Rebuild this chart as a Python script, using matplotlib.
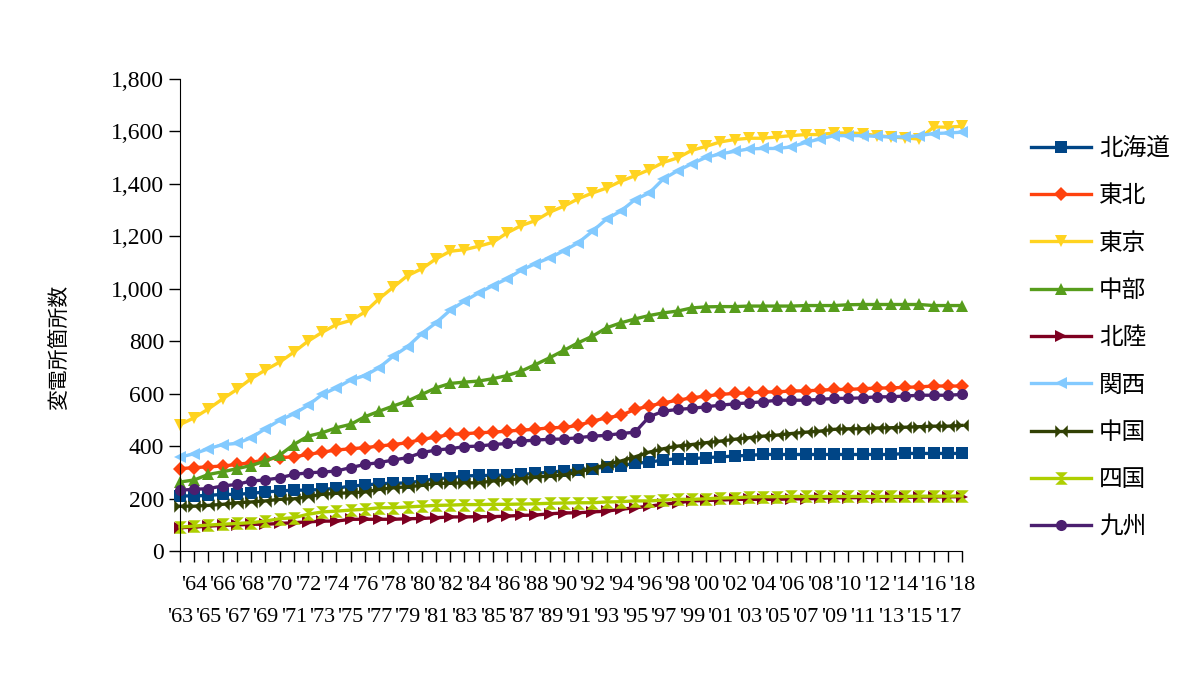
import matplotlib
matplotlib.use("Agg")
import matplotlib.pyplot as plt
from matplotlib.path import Path

years = list(range(1963, 2019))

hokkaido = [210, 210, 212, 216, 216, 220, 225, 229, 232, 232, 235, 239, 248, 251, 257, 258,
            260, 267, 276, 279, 286, 288, 288, 290, 292, 296, 301, 305, 309, 314, 321, 326,
            334, 339, 347, 352, 352, 356, 359, 362, 365, 368, 368, 368, 368, 368, 368, 368,
            368, 368, 368, 372, 372, 372, 372, 372]
tohoku = [314, 318, 321, 324, 330, 337, 349, 356, 359, 368, 377, 385, 390, 394, 400, 406,
          413, 426, 434, 445, 447, 451, 453, 457, 461, 464, 470, 471, 479, 495, 508, 517,
          540, 553, 565, 575, 584, 591, 597, 601, 603, 606, 607, 610, 611, 613, 616, 616,
          619, 621, 622, 624, 626, 629, 629, 629]
tokyo = [482, 508, 542, 580, 616, 657, 690, 720, 758, 800, 834, 864, 879, 911, 962, 1006,
         1050, 1076, 1114, 1143, 1149, 1162, 1177, 1213, 1241, 1260, 1292, 1315, 1343, 1365, 1384, 1410,
         1431, 1454, 1482, 1499, 1528, 1543, 1560, 1569, 1574, 1574, 1579, 1584, 1588, 1588, 1594, 1594,
         1592, 1584, 1579, 1575, 1571, 1617, 1616, 1620]
chubu = [263, 271, 292, 302, 314, 326, 343, 365, 406, 438, 451, 470, 483, 512, 533, 553,
         572, 597, 622, 639, 644, 648, 657, 669, 686, 711, 737, 765, 794, 819, 851, 870,
         885, 898, 908, 915, 927, 931, 932, 932, 934, 934, 934, 934, 936, 936, 936, 939,
         940, 940, 940, 940, 940, 936, 936, 936]
hokuriku = [89, 91, 95, 98, 99, 102, 102, 105, 108, 111, 114, 114, 121, 121, 121, 121,
            123, 124, 127, 130, 130, 131, 131, 133, 136, 137, 142, 145, 146, 149, 152, 159,
            165, 171, 178, 184, 191, 193, 194, 197, 197, 197, 197, 199, 199, 201, 203, 203,
            204, 204, 205, 205, 206, 206, 207, 207]
kansai = [358, 371, 390, 406, 410, 432, 466, 498, 523, 555, 597, 622, 652, 669, 699, 743,
          779, 829, 870, 918, 953, 984, 1012, 1038, 1071, 1096, 1118, 1145, 1175, 1219, 1266, 1296,
          1340, 1365, 1419, 1450, 1477, 1501, 1514, 1524, 1533, 1535, 1535, 1541, 1558, 1571, 1584, 1584,
          1584, 1581, 1579, 1579, 1584, 1592, 1594, 1597]
chugoku = [171, 171, 174, 178, 184, 187, 191, 197, 199, 207, 216, 220, 222, 225, 235, 241,
           245, 250, 258, 258, 260, 260, 267, 271, 276, 282, 286, 290, 301, 314, 330, 343,
           359, 377, 390, 400, 406, 413, 419, 426, 432, 438, 442, 448, 453, 457, 464, 466,
           466, 469, 470, 472, 474, 476, 476, 479]
shikoku = [91, 95, 99, 102, 105, 108, 114, 123, 127, 140, 149, 152, 156, 159, 165, 165,
           168, 171, 174, 175, 177, 177, 178, 178, 179, 180, 182, 183, 184, 184, 187, 188,
           191, 191, 194, 197, 197, 199, 202, 203, 206, 207, 207, 208, 208, 208, 208, 208,
           208, 208, 208, 208, 209, 209, 209, 210]
kyushu = [232, 235, 238, 248, 254, 267, 271, 279, 292, 298, 301, 305, 318, 330, 337, 347,
          356, 375, 385, 390, 398, 400, 406, 410, 419, 423, 426, 427, 432, 438, 441, 448,
          453, 512, 533, 540, 544, 550, 556, 561, 565, 569, 575, 575, 575, 578, 582, 582,
          584, 588, 588, 591, 594, 594, 594, 597]

names = ["北海道", "東北", "東京", "中部", "北陸", "関西", "中国", "四国", "九州"]
colors = ["#004586", "#ff420e", "#ffd320", "#579d1c", "#7e0021",
          "#83caff", "#314004", "#aecf00", "#4b1f6f"]

# bowtie / hourglass markers like the office-suite ones
bowtie = Path([(-1, -1), (0, 0), (-1, 1), (-1, -1), (1, -1), (0, 0), (1, 1), (1, -1)],
              [Path.MOVETO, Path.LINETO, Path.LINETO, Path.CLOSEPOLY,
               Path.MOVETO, Path.LINETO, Path.LINETO, Path.CLOSEPOLY])
hourglass = Path([(-1, -1), (0, 0), (1, -1), (-1, -1), (-1, 1), (0, 0), (1, 1), (-1, 1)],
                 [Path.MOVETO, Path.LINETO, Path.LINETO, Path.CLOSEPOLY,
                  Path.MOVETO, Path.LINETO, Path.LINETO, Path.CLOSEPOLY])
markers = ["s", "D", "v", "^", ">", "<", bowtie, hourglass, "o"]
sizes = [8, 7, 9, 9, 9, 9, 9, 9, 8]

series = [hokkaido, tohoku, tokyo, chubu, hokuriku, kansai, chugoku, shikoku, kyushu]

cjk = ["Noto Sans CJK JP", "DejaVu Sans"]
serif = "Liberation Serif"

fig = plt.figure(figsize=(12, 6.75), dpi=100)
ax = fig.add_axes([0.15, 0.1837, 0.6517, 0.6993])

for vals, name, c, m, ms in zip(series, names, colors, markers, sizes):
    ax.plot(years, vals, color=c, lw=2.4, marker=m, markersize=ms,
            markeredgewidth=0, label=name, clip_on=False)

ax.set_xlim(1963, 2018)
ax.set_ylim(0, 1800)
ax.set_yticks(range(0, 1801, 200))
ax.set_yticklabels([f"{v:,}" for v in range(0, 1801, 200)], fontfamily=serif, fontsize=17)

# even years on the first row, odd years on the second row
even = [y for y in years if y % 2 == 0]
odd = [y for y in years if y % 2 == 1]
ax.set_xticks(even)
ax.set_xticklabels(["'" + str(y)[2:] for y in even], fontfamily=serif, fontsize=16)
ax.set_xticks(odd, minor=True)
ax.set_xticklabels(["'" + str(y)[2:] for y in odd], minor=True, fontfamily=serif, fontsize=16)

for sp in ["top", "right"]:
    ax.spines[sp].set_visible(False)
ax.spines["left"].set_color("black")
ax.spines["bottom"].set_color("black")
ax.tick_params(axis="both", which="both", direction="out", length=8, width=1, colors="black")
ax.tick_params(axis="x", which="major", pad=10)
ax.tick_params(axis="x", which="minor", pad=33)

ax.set_ylabel("変電所箇所数", fontfamily=cjk, fontsize=15)
ax.yaxis.set_label_coords(-0.1407, 0.432)

leg = ax.legend(loc="upper left", bbox_to_anchor=(1.061, 0.922), frameon=False,
                prop={"family": cjk, "size": 17}, handlelength=2.55,
                labelspacing=1.03, handletextpad=0.34)

fig.savefig("out.png", dpi=100)
